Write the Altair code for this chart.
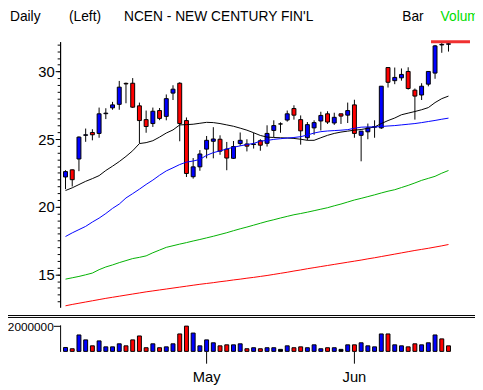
import altair as alt
import pandas as pd

# ---------------- data ----------------
days = list(range(58))
month_ticks = [21, 43]
month_labels = ["May", "Jun"]

open_ = [22.2, 22.73, 23.53, 25.28, 25.49, 25.42, 26.88, 27.31, 27.57, 29.12,
         29.13, 27.46, 26.44, 26.15, 27.11, 26.68, 28.40, 29.13, 26.37, 22.22,
         22.95, 24.26, 24.84, 24.99, 24.26, 23.58, 24.67, 24.64, 24.60, 24.88,
         24.69, 25.64, 26.12, 26.41, 27.26, 26.44, 25.10, 25.83, 26.34, 26.87,
         26.19, 26.87, 26.77, 27.53, 25.28, 25.54, 25.88, 25.83, 30.29, 29.32,
         29.53, 30.00, 28.62, 28.26, 29.06, 29.88, 31.96, 32.01]
high = [22.7, 22.75, 25.2, 25.78, 25.73, 27.33, 27.28, 27.75, 29.3, 29.18,
        29.51, 27.7, 27.11, 27.33, 27.3, 28.3, 28.98, 29.2, 26.6, 23.6,
        24.19, 25.23, 25.88, 25.28, 24.79, 24.86, 25.49, 24.99, 25.47, 24.99,
        26.02, 26.39, 26.24, 27.11, 27.5, 26.75, 26.26, 26.39, 27.02, 27.06,
        26.95, 26.87, 27.7, 27.91, 25.59, 26.15, 26.39, 28.91, 30.29, 30.29,
        30.22, 30.31, 28.74, 29.13, 30.0, 31.96, 32.13, 32.13]
low = [21.3, 21.5, 22.63, 24.8, 24.91, 25.1, 26.48, 27.17, 27.17, 27.65,
       27.3, 24.69, 25.47, 25.9, 26.4, 26.39, 27.89, 24.84, 22.2, 22.08,
       22.66, 23.58, 23.58, 23.84, 22.7, 23.53, 24.5, 24.09, 24.3, 24.14,
       24.45, 25.15, 25.47, 26.29, 26.44, 24.59, 24.91, 25.32, 25.64, 26.12,
       26.05, 26.12, 26.19, 25.1, 23.36, 24.99, 25.1, 25.75, 28.81, 29.06,
       29.32, 28.66, 26.44, 27.89, 28.9, 29.46, 31.38, 31.47]
close = [22.6, 22.0, 25.15, 25.32, 25.32, 26.87, 26.92, 27.53, 28.84, 29.08,
         27.36, 26.37, 25.93, 27.06, 26.53, 27.99, 28.69, 26.15, 22.46, 22.95,
         23.9, 24.91, 25.01, 24.11, 23.6, 24.45, 24.91, 24.48, 24.64, 24.55,
         25.42, 26.0, 26.12, 26.87, 26.77, 25.61, 26.07, 26.22, 26.75, 26.26,
         26.61, 26.7, 27.11, 25.42, 25.59, 25.83, 25.92, 28.91, 29.2, 29.56,
         29.78, 28.74, 28.18, 28.91, 30.0, 31.89, 32.0, 32.05]
volume = [310000, 210000, 1300000, 910000, 440000, 830000, 360000, 360000, 600000, 440000,
          910000, 1220000, 290000, 600000, 290000, 360000, 600000, 1380000, 2000000, 1450000,
          440000, 910000, 680000, 440000, 520000, 520000, 600000, 210000, 290000, 210000,
          290000, 290000, 160000, 440000, 290000, 360000, 290000, 520000, 210000, 290000,
          290000, 160000, 520000, 520000, 680000, 440000, 360000, 1380000, 1380000, 520000,
          440000, 360000, 600000, 520000, 680000, 1300000, 990000, 440000]
vol_dir = ["u", "d", "u", "u", "d", "u", "u", "u", "u", "d",
           "d", "d", "d", "u", "d", "u", "u", "d", "d", "u",
           "u", "u", "u", "d", "d", "u", "u", "d", "u", "d",
           "u", "u", "n", "u", "d", "d", "u", "u", "u", "d",
           "u", "n", "u", "d", "u", "u", "u", "u", "d", "u",
           "u", "d", "d", "u", "u", "u", "d", "d"]

ma_black = [21.2, 21.4, 21.64, 21.88, 22.08, 22.3, 22.68, 23.0, 23.34, 23.72,
            24.14, 24.67, 24.74, 24.88, 25.15, 25.45, 25.68, 26.05, 26.07, 26.1,
            26.17, 26.24, 26.22, 26.15, 26.05, 25.95, 25.81, 25.66, 25.47, 25.27,
            25.15, 25.12, 25.1, 25.08, 25.05, 24.99, 24.91, 24.91, 25.1, 25.28,
            25.42, 25.52, 25.59, 25.66, 25.71, 25.8, 25.9, 26.15, 26.37, 26.56,
            26.8, 26.92, 27.04, 27.17, 27.33, 27.7, 27.99, 28.18]
ma_blue = [17.8, 18.07, 18.31, 18.55, 18.87, 19.16, 19.5, 19.88, 20.2, 20.65,
           20.97, 21.3, 21.65, 21.97, 22.33, 22.65, 22.88, 23.12, 23.3, 23.38,
           23.5, 23.8, 24.0, 24.13, 24.27, 24.4, 24.5, 24.6, 24.68, 24.85,
           24.9, 24.98, 25.03, 25.08, 25.12, 25.18, 25.3, 25.45, 25.55, 25.6,
           25.63, 25.66, 25.7, 25.8, 25.88, 25.9, 25.9, 25.93, 25.97, 26.0,
           26.05, 26.1, 26.15, 26.22, 26.3, 26.38, 26.47, 26.55]
ma_green = [14.65, 14.75, 14.85, 14.97, 15.1, 15.35, 15.55, 15.7, 15.87, 16.02,
            16.17, 16.26, 16.37, 16.6, 16.8, 17.0, 17.12, 17.24, 17.35, 17.47,
            17.58, 17.7, 17.82, 17.95, 18.08, 18.23, 18.37, 18.5, 18.64, 18.78,
            18.92, 19.04, 19.17, 19.29, 19.41, 19.5, 19.6, 19.71, 19.82, 19.93,
            20.07, 20.2, 20.35, 20.5, 20.62, 20.75, 20.88, 21.02, 21.15, 21.26,
            21.42, 21.58, 21.76, 21.95, 22.1, 22.25, 22.48, 22.68]
ma_red = [12.68, 12.78, 12.87, 12.96, 13.05, 13.14, 13.23, 13.31, 13.39, 13.47,
          13.55, 13.63, 13.71, 13.78, 13.85, 13.92, 13.99, 14.06, 14.13, 14.2,
          14.27, 14.33, 14.39, 14.46, 14.52, 14.59, 14.65, 14.72, 14.78, 14.85,
          14.92, 15.0, 15.08, 15.16, 15.25, 15.33, 15.42, 15.5, 15.58, 15.66,
          15.74, 15.82, 15.9, 15.98, 16.06, 16.15, 16.23, 16.32, 16.41, 16.5,
          16.59, 16.68, 16.77, 16.85, 16.93, 17.02, 17.11, 17.21]

high_level = [32.2]
high_start = [54.4]
high_end = [60.2]

price_major = [15, 20, 25, 30]
price_minor = [13 + 0.5 * k for k in range(39)]
vol_ticks = [2000000]

header = ["Daily", "(Left)", "NCEN - NEW CENTURY FIN'L", "Bar", "Volume"]

# ---------------- tables ----------------
COLORS = {"u": "#0000ff", "d": "#ff0000", "n": "#000000"}
df = pd.DataFrame({"i": days, "open": open_, "high": high, "low": low,
                   "close": close, "vol": volume})
df["body_fill"] = [COLORS["u"] if c > o else (COLORS["d"] if c < o else COLORS["n"])
                   for o, c in zip(open_, close)]
df["vol_fill"] = [COLORS[c] for c in vol_dir]

ma_frames = {
    "black": pd.DataFrame({"i": days, "v": ma_black}),
    "#0000ff": pd.DataFrame({"i": days, "v": ma_blue}),
    "#00b000": pd.DataFrame({"i": days, "v": ma_green}),
    "#ff0000": pd.DataFrame({"i": days, "v": ma_red}),
}
hi_df = pd.DataFrame({"level": high_level, "start": high_start, "end": high_end})
month_df = pd.DataFrame({"m": month_ticks, "name": month_labels})

W, H = 422, 315
FONT = "Liberation Sans"

xs = alt.Scale(domain=[-0.5 / 7, (W - 0.5) / 7], nice=False, zero=False)
ys = alt.Scale(domain=[12.58, 32.2], range=[270, 0], nice=False, zero=False)
vs = alt.Scale(domain=[0, 2100000], range=[H, 288], nice=False, zero=False)

x_axis = alt.Axis(values=days, orient="bottom", tickSize=6, labels=False,
                  translate=0, offset=0.5, title=None, grid=False)
y_major_axis = alt.Axis(values=price_major, orient="left", tickSize=5,
                        labelPadding=1, labelFontSize=15, labelFont=FONT,
                        title=None, grid=False)
y_minor_axis = alt.Axis(values=price_minor, orient="left", tickSize=3,
                        labels=False, title=None, grid=False)
v_axis = alt.Axis(values=vol_ticks, orient="left", tickSize=7, format="d",
                  labelPadding=0, labelFontSize=12, labelFont=FONT,
                  title=None, grid=False)

base = alt.Chart(df)

wicks = base.mark_rule(color="black", strokeWidth=1).encode(
    x=alt.X("i:Q", scale=xs, axis=None),
    y=alt.Y("low:Q", scale=ys, axis=y_major_axis),
    y2="high:Q",
)
bodies = base.mark_bar(size=4, stroke="black", strokeWidth=1).encode(
    x=alt.X("i:Q", scale=xs, axis=None),
    y=alt.Y("open:Q", scale=ys, axis=y_minor_axis),
    y2="close:Q",
    fill=alt.Fill("body_fill:N", scale=None),
)
lines = [
    alt.Chart(frame).mark_line(color=col, strokeWidth=1).encode(
        x=alt.X("i:Q", scale=xs, axis=None),
        y=alt.Y("v:Q", scale=ys, axis=None),
    )
    for col, frame in ma_frames.items()
]
hiline = alt.Chart(hi_df).mark_rule(color="#f03030", strokeWidth=3).encode(
    x=alt.X("start:Q", scale=xs, axis=None),
    x2="end:Q",
    y=alt.Y("level:Q", scale=ys, axis=None),
)
price = alt.layer(wicks, bodies, *lines, hiline).resolve_axis(y="independent")

vol = base.mark_bar(size=4, stroke="black", strokeWidth=1).encode(
    x=alt.X("i:Q", scale=xs, axis=x_axis),
    y=alt.Y("vol:Q", scale=vs, axis=v_axis),
    fill=alt.Fill("vol_fill:N", scale=None),
)
month_marks = alt.Chart(month_df).mark_rule(color="black", strokeWidth=1).encode(
    x=alt.X("m:Q", scale=xs, axis=None),
    y=alt.value(H + 0.5),
    y2=alt.value(H + 12.5),
)
month_text = alt.Chart(month_df).mark_text(
    align="center", baseline="alphabetic", font=FONT, fontSize=15, color="black"
).encode(
    x=alt.X("m:Q", scale=xs, axis=None),
    y=alt.value(H + 31),
    text="name:N",
)


def label(txt, x, color="black"):
    return alt.Chart(pd.DataFrame({"t": [txt]})).mark_text(
        align="left", baseline="alphabetic", font=FONT, fontSize=14, color=color
    ).encode(x=alt.value(x), y=alt.value(-21), text="t:N")


texts = [
    label(header[0], -51),
    label(header[1], 9),
    label(header[2], 65),
    label(header[3], 348),
    label(header[4], 387, "#00dd00"),
]

sep_df = pd.DataFrame({"k": [0]})
seps = [
    alt.Chart(sep_df).mark_rule(color="black", strokeWidth=1).encode(
        x=alt.value(-53), x2=alt.value(W), y=alt.value(yy))
    for yy in (278.5, 280.5)
]

chart = alt.layer(price, vol, month_marks, month_text, *texts, *seps).resolve_scale(
    y="independent"
).resolve_axis(y="independent").properties(
    width=W, height=H,
    autosize=alt.AutoSizeParams(type="none"),
    padding={"left": 53, "top": 31, "right": 0, "bottom": 36},
).configure_view(stroke=None).configure_axis(
    domainColor="black", tickColor="black", labelColor="black",
)

chart.save("out.html", embed_options={"renderer": "svg", "actions": False})
